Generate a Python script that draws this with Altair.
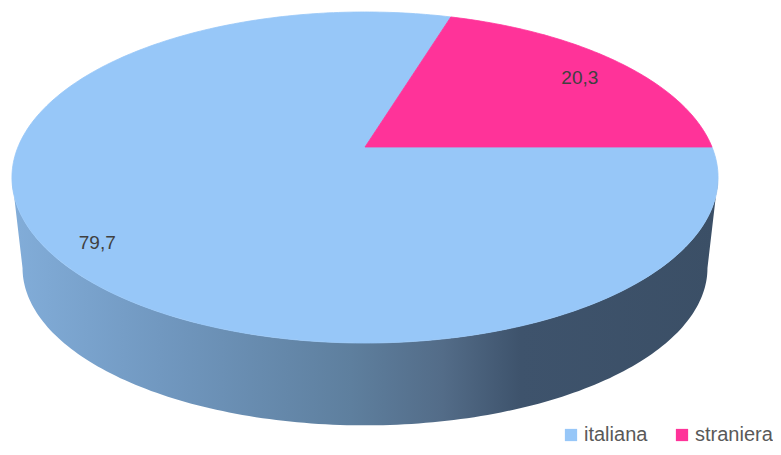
import numpy as np
import pandas as pd
import altair as alt

# ---- data -------------------------------------------------------------
categories = ["italiana", "straniera"]
values = [79.7, 20.3]
slice_colors = ["#97c7f8", "#ff3399"]

# ---- view geometry (page pixels) -------------------------------------
W, H = 765, 439
CX, CY = 365.0, 147.0          # projected centre of the top face
KX, AY, TILT = 347.0, 159.9, 0.1843
BOT_CY, BOT_KX, BOT_AY = 239.0, 336.6, 152.0
START = 90.0                    # first slice angle, clockwise from 12 o'clock
LABEL_F = 0.855                 # label position: fraction from ellipse centre to rim


def proj(theta_deg, r, cy=CY, kx=KX, ay=AY):
    t = np.radians(theta_deg)
    u = r * np.sin(t)
    v = r * np.cos(t)
    d = 1 + TILT * v
    return CX + kx * u / d, cy - ay * v / d


# centre of the projected ellipse of the top face
ECX = CX
ECY = CY + AY * TILT / (1 - TILT ** 2)

total = sum(values)
bounds = []
a = START
for c, v in zip(categories, values):
    span = 360.0 * v / total
    bounds.append((c, a, a + span, v))
    a += span

# top faces
top_rows = []
label_rows = []
for c, a0, a1, v in bounds:
    n = max(3, int(abs(a1 - a0)) + 1)
    k = 0
    x0, y0 = proj(0, 0)
    top_rows.append(dict(slice=c, order=k, x=x0, y=y0)); k += 1
    for th in np.linspace(a0, a1, n):
        x, y = proj(th, 1.0)
        top_rows.append(dict(slice=c, order=k, x=x, y=y)); k += 1
    top_rows.append(dict(slice=c, order=k, x=x0, y=y0))
    rx, ry = proj((a0 + a1) / 2, 1.0)
    lx = ECX + LABEL_F * (rx - ECX)
    ly = ECY + LABEL_F * (ry - ECY)
    label_rows.append(dict(slice=c, x=lx, y=ly,
                           text=f"{v:.1f}".replace(".", ",")))
top_df = pd.DataFrame(top_rows)
label_df = pd.DataFrame(label_rows)

# visible side wall (front half of the cylinder)
th_r = np.degrees(np.arccos(-TILT))
th_l = 360.0 - th_r
wall_rows = []
for c, a0, a1, v in bounds:
    for off in (0.0, 360.0):
        lo = max(a0, th_r + off)
        hi = min(a1, th_l + off)
        if hi > lo:
            n = int(hi - lo) + 2
            k = 0
            ths = np.linspace(lo, hi, n)
            for th in ths:
                x, y = proj(th, 1.0)
                wall_rows.append(dict(slice=c, order=k, x=x, y=y)); k += 1
            for th in ths[::-1]:
                x, y = proj(th, 1.0, BOT_CY, BOT_KX, BOT_AY)
                wall_rows.append(dict(slice=c, order=k, x=x, y=y)); k += 1
wall_df = pd.DataFrame(wall_rows)

xs = alt.Scale(domain=[8, 8 + W], nice=False, zero=False)
ys = alt.Scale(domain=[8, 8 + H], nice=False, zero=False, reverse=True)
X = alt.X("x:Q", scale=xs, axis=None)
Y = alt.Y("y:Q", scale=ys, axis=None)

grad = alt.LinearGradient(
    gradient="linear",
    stops=[
        alt.GradientStop(color="#82add9", offset=0.0),
        alt.GradientStop(color="#7198c0", offset=0.21),
        alt.GradientStop(color="#5e7f9e", offset=0.48),
        alt.GradientStop(color="#536c88", offset=0.61),
        alt.GradientStop(color="#3e536c", offset=0.72),
        alt.GradientStop(color="#3b4f66", offset=1.0),
    ],
    x1=0, x2=1, y1=0, y2=0,
)

wall = alt.Chart(wall_df).mark_line(filled=True, color=grad, strokeWidth=0).encode(
    x=X, y=Y, detail="slice:N", order="order:Q"
)

cscale = alt.Scale(domain=categories, range=slice_colors)
top = alt.Chart(top_df).mark_line(filled=True, strokeWidth=0.8).encode(
    x=X, y=Y, order="order:Q",
    color=alt.Color(
        "slice:N", scale=cscale,
        legend=alt.Legend(
            title=None, orient="none", legendX=553, legendY=417,
            direction="horizontal", symbolType="square", symbolSize=150,
            symbolStrokeWidth=0, labelFont="Liberation Sans", labelFontSize=20,
            labelColor="#595959", labelOffset=3, columnPadding=24, padding=0,
        ),
    ),
    stroke=alt.Stroke("slice:N", scale=cscale, legend=None),
)

labels = alt.Chart(label_df).mark_text(
    font="Liberation Sans", fontSize=19, color="#404040"
).encode(x=X, y=Y, text="text:N")

chart = alt.layer(wall, top, labels).properties(
    width=W, height=H, padding=0, autosize=alt.AutoSizeParams(type="none")
).configure_view(stroke=None)

chart.save("out.html", embed_options={"renderer": "svg", "actions": False})
